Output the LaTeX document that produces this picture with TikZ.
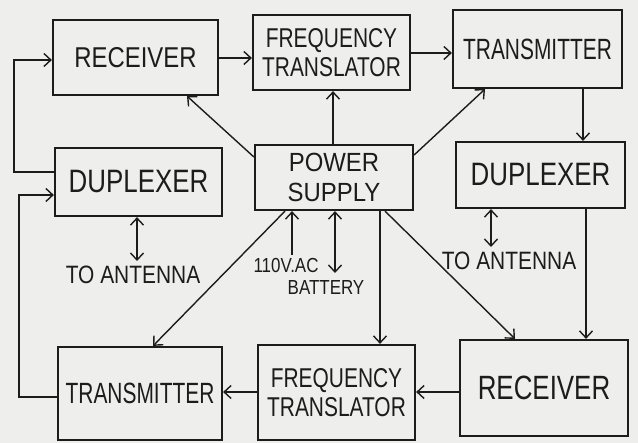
\documentclass[tikz,border=0pt]{standalone}
\usepackage{fontspec}
\usepackage{graphicx}
\setmainfont{Liberation Sans}
\usetikzlibrary{arrows.meta}
\definecolor{paper}{RGB}{238,238,236}
\definecolor{ink}{RGB}{28,28,28}
\newcommand\tallt[2][1.3]{\scalebox{1}[#1]{#2}}
\begin{document}
\begin{tikzpicture}[x=1bp,y=-1bp,
  blk/.style={draw=ink, line width=2.2bp, inner sep=0pt, align=center, text=ink},
  tip/.tip={Straight Barb[length=7bp,width=13bp,line width=1.4bp]},
  con/.style={draw=ink, line width=1.4bp, -tip},
  dbl/.style={draw=ink, line width=1.4bp, tip-tip},
  lbl/.style={text=ink, inner sep=0pt}]
\fill[paper] (0,0) rectangle (638,443);
\useasboundingbox (0,0) rectangle (638,443);
% boxes
\node[blk, minimum width=165bp, minimum height=75bp, font=\fontsize{24}{27}\selectfont] (rx1) at (135.5,57.5) {\tallt[1.2]{RECEIVER}};
\node[blk, minimum width=157bp, minimum height=75bp, font=\fontsize{21}{29}\selectfont] (ft1) at (331.5,52.5) {\tallt{FREQUENCY}\\\tallt{TRANSLATOR}};
\node[blk, minimum width=169bp, minimum height=78bp, font=\fontsize{21}{26}\selectfont] (tx1) at (537.5,49) {\tallt[1.4]{TRANSMITTER}};
\node[blk, minimum width=167bp, minimum height=68bp, font=\fontsize{26}{28}\selectfont] (dp1) at (138.5,182) {\tallt[1.25]{DUPLEXER}};
\node[blk, minimum width=158bp, minimum height=65bp, font=\fontsize{24}{30}\selectfont] (ps) at (334,177.5) {\tallt[1.1]{POWER}\\\tallt[1.1]{SUPPLY}};
\node[blk, minimum width=169bp, minimum height=66bp, font=\fontsize{26}{28}\selectfont] (dp2) at (540.5,175) {\tallt[1.25]{DUPLEXER}};
\node[blk, minimum width=164bp, minimum height=93bp, font=\fontsize{21}{26}\selectfont] (tx2) at (140,393.5) {\tallt[1.4]{TRANSMITTER}};
\node[blk, minimum width=157bp, minimum height=95bp, font=\fontsize{21}{29}\selectfont] (ft2) at (336.5,392.5) {\tallt{FREQUENCY}\\\tallt{TRANSLATOR}};
\node[blk, minimum width=168bp, minimum height=96bp, font=\fontsize{26}{28}\selectfont] (rx2) at (544,388) {\tallt[1.3]{RECEIVER}};
% labels
\node[lbl, font=\fontsize{21}{24}\selectfont] (ant1) at (133,275) {\tallt[1.2]{TO ANTENNA}};
\node[lbl, font=\fontsize{21}{24}\selectfont] (ant2) at (509,261) {\tallt[1.2]{TO ANTENNA}};
\node[lbl, font=\fontsize{17}{20}\selectfont] (l110) at (286,266) {\tallt[1.2]{110V.AC}};
\node[lbl, font=\fontsize{17}{20}\selectfont] (lbat) at (326,288) {\tallt[1.2]{BATTERY}};
\coordinate (a1) at (137,261);
\coordinate (a2) at (491,247);
\coordinate (v110) at (292,255);
\coordinate (vbat) at (335,273);
% connectors
\draw[con] (rx1.east |- 0,58) -- (ft1.west |- 0,58);
\draw[con] (ft1.east |- 0,53) -- (tx1.west |- 0,53);
\draw[con] (tx1.south -| 583,0) -- (dp2.north -| 583,0);
\draw[con] (dp2.south -| 586,0) -- (rx2.north -| 586,0);
\draw[con] (rx2.west |- 0,392) -- (ft2.east |- 0,392);
\draw[con] (ft2.west |- 0,392) -- (tx2.east |- 0,392);
\draw[con] (tx2.west |- 0,397) -- ++(-38,0) |- (dp1.west |- 0,195);
\draw[con] (dp1.west |- 0,172) -- ++(-40,0) |- (rx1.west |- 0,60);
\draw[dbl] (dp1.south -| 137,0) -- (a1);
\draw[dbl] (dp2.south -| 491,0) -- (a2);
\draw[con] (ps.west |- 0,157) -- (rx1.south -| 187,0);
\draw[con] (ps.north -| 333,0) -- (ft1.south -| 333,0);
\draw[con] (ps.east |- 0,155) -- (tx1.south -| 485,0);
\draw[con] (ps.south -| 285,0) -- (tx2.north -| 153,0);
\draw[con] (v110) -- (ps.south -| 292,0);
\draw[dbl] (ps.south -| 335,0) -- (vbat);
\draw[con] (ps.south -| 380,0) -- (ft2.north -| 380,0);
\draw[con] (ps.south -| 385,0) -- (rx2.north -| 515,0);
\end{tikzpicture}
\end{document}
